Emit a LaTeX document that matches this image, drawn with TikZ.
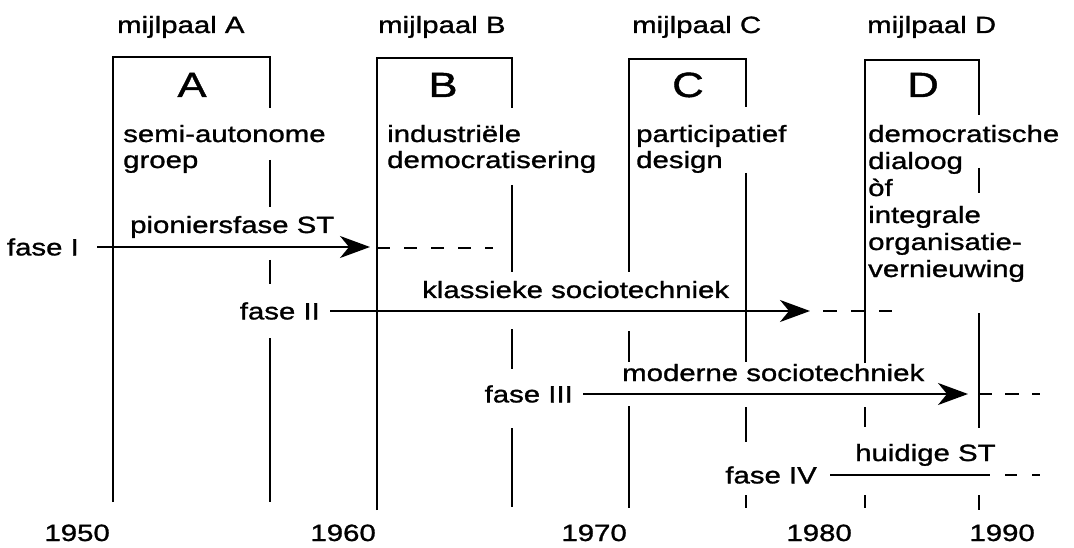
\documentclass[tikz,border=0pt]{standalone}
\usepackage{fontspec}
\setmainfont[FakeStretch=1.25,FakeBold=1.2]{Liberation Sans}
\usetikzlibrary{arrows.meta}
\begin{document}
\begin{tikzpicture}[x=1pt,y=-1pt,
  rule/.style={line width=2.2pt, line join=miter},
  lbl/.style={inner sep=0pt, font=\fontsize{23.5}{27}\selectfont},
  big/.style={inner sep=0pt, font=\fontsize{35}{40}\selectfont},
  phase/.style={line width=2pt, -{Stealth[length=30pt,width=22pt,inset=9pt]}},
  plain/.style={line width=2pt},
  cont/.style={line width=2pt, dash pattern=on 13pt off 14pt},
]
\useasboundingbox (0,0) rectangle (1074,548);

% milestone headings
\node[lbl,anchor=base west] (mA) at (117,33) {mijlpaal A};
\node[lbl,anchor=base west] (mB) at (378,33) {mijlpaal B};
\node[lbl,anchor=base west] (mC) at (632,33) {mijlpaal C};
\node[lbl,anchor=base west] (mD) at (867,33) {mijlpaal D};

% box A
\draw[rule] (113,502) -- (113,57) -- (270,57) -- (270,108);
\draw[rule] (270,160) -- (270,207) (270,260) -- (270,284) (270,338) -- (270,502);
% box B
\draw[rule] (377,510) -- (377,58) -- (512,58) -- (512,108);
\draw[rule] (512,185) -- (512,272) (512,329) -- (512,369) (512,428) -- (512,507);
% box C
\draw[rule] (629,272) -- (629,59) -- (746,59) -- (746,107);
\draw[rule] (629,331) -- (629,362) (629,406) -- (629,508);
\draw[rule] (746,173) -- (746,362) (746,407) -- (746,442) (746,495) -- (746,508);
% box D
\draw[rule] (865,363) -- (865,60) -- (979,60) -- (979,115);
\draw[rule] (865,407) -- (865,427) (865,495) -- (865,508);
\draw[rule] (979,168) -- (979,193) (979,313) -- (979,428) (979,495) -- (979,510);

% big letters
\node[big,anchor=base] (LA) at (192,97) {A};
\node[big,anchor=base] (LB) at (443,97) {B};
\node[big,anchor=base] (LC) at (688,97) {C};
\node[big,anchor=base] (LD) at (923,97) {D};

% box texts
\node[lbl,anchor=base west] (tA1) at (123,142) {semi-autonome};
\node[lbl,anchor=base west] (tA2) at (123,168) {groep};
\node[lbl,anchor=base west] (tB1) at (387,142) {industriële};
\node[lbl,anchor=base west] (tB2) at (387,168) {democratisering};
\node[lbl,anchor=base west] (tC1) at (636,142) {participatief};
\node[lbl,anchor=base west] (tC2) at (636,168) {design};
\node[lbl,anchor=base west] (tD1) at (868,142) {democratische};
\node[lbl,anchor=base west] (tD2) at (868,169) {dialoog};
\node[lbl,anchor=base west] (tD3) at (868,196) {òf};
\node[lbl,anchor=base west] (tD4) at (868,223) {integrale};
\node[lbl,anchor=base west] (tD5) at (868,250) {organisatie-};
\node[lbl,anchor=base west] (tD6) at (868,277) {vernieuwing};

% fase I
\node[lbl,anchor=east] (f1) at (79,247) {fase I};
\coordinate (e1) at (370,247);
\draw[phase,shorten <=18pt] (f1) -- (e1);
\node[lbl,anchor=base west] (p1) at (130,233) {pioniersfase ST};
\coordinate (d1a) at (377,248);
\coordinate (d1b) at (493,248);
\draw[cont] (d1a) -- (d1b);

% fase II
\node[lbl,anchor=east] (f2) at (320,311) {fase II};
\coordinate (e2) at (810,311);
\draw[phase,shorten <=10pt] (f2) -- (e2);
\node[lbl,anchor=base west] (p2) at (422,298) {klassieke sociotechniek};
\coordinate (d2a) at (823,311);
\coordinate (d2b) at (892,311);
\draw[plain,dash pattern=on 14pt off 14pt] (d2a) -- (d2b);

% fase III
\node[lbl,anchor=east] (f3) at (573,394) {fase III};
\coordinate (e3) at (968,394);
\draw[phase,shorten <=10pt] (f3) -- (e3);
\node[lbl,anchor=base west] (p3) at (622,381) {moderne sociotechniek};
\coordinate (d3a) at (978,394);
\coordinate (d3b) at (1040,394);
\draw[plain,dash pattern=on 14pt off 13pt] (d3a) -- (d3b);

% fase IV
\node[lbl,anchor=east] (f4) at (817,475) {fase IV};
\coordinate (e4) at (990,475);
\draw[plain,shorten <=13pt] (f4) -- (e4);
\node[lbl,anchor=base west] (p4) at (855,461) {huidige ST};
\coordinate (d4a) at (1005,475);
\coordinate (d4b) at (1040,475);
\draw[plain,dash pattern=on 12pt off 15pt] (d4a) -- (d4b);

% years
\node[lbl,anchor=base east] (y50) at (110,541) {1950};
\node[lbl,anchor=base east] (y60) at (376,541) {1960};
\node[lbl,anchor=base east] (y70) at (627,541) {1970};
\node[lbl,anchor=base east] (y80) at (852,541) {1980};
\node[lbl,anchor=base east] (y90) at (1035,541) {1990};
\end{tikzpicture}
\end{document}
